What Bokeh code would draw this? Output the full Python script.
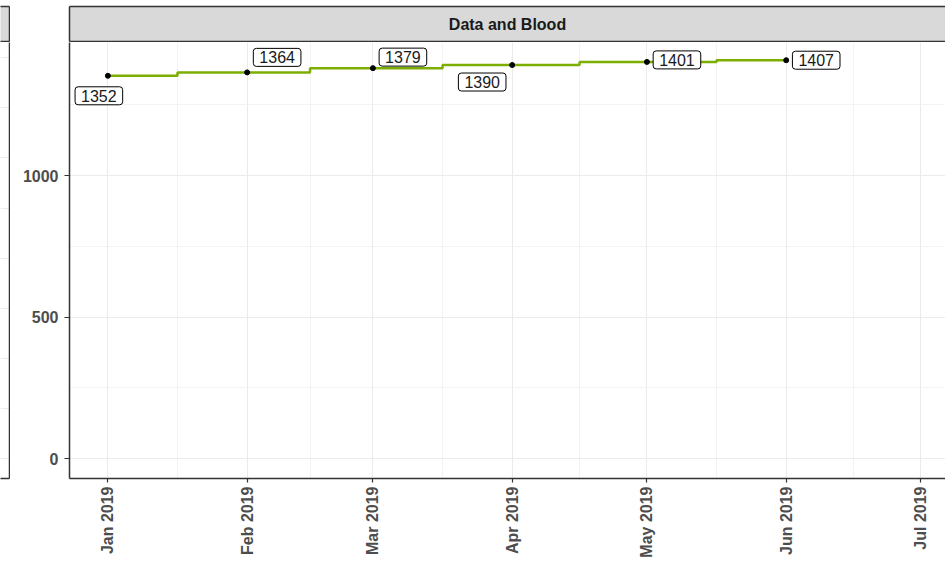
import math
import pandas as pd
from bokeh.plotting import figure
from bokeh.models import (ColumnDataSource, FixedTicker, DatetimeTickFormatter,
                          Range1d, LinearAxis, Label, Grid)
from bokeh.layouts import column, row
from bokeh.embed import file_html
from bokeh.resources import INLINE

# ---- data ----
dates = ["2019-01-01", "2019-02-01", "2019-03-01", "2019-04-01", "2019-05-01", "2019-06-01"]
values = [1352, 1364, 1379, 1390, 1401, 1407]
labels = [str(v) for v in values]
# label offsets in screen pixels (repelled label positions); dy positive = down
label_dx = [-9, 30, 30, -30, 30, 30]
label_dy = [20, -15, -11, 17, -2, 0]
x_tick_dates = ["2019-01-01", "2019-02-01", "2019-03-01", "2019-04-01",
                "2019-05-01", "2019-06-01", "2019-07-01"]
y_ticks = [0, 500, 1000]
y_minor_ticks = [250, 750, 1250]
strip_title = "Data and Blood"
# neighbouring (cut-off) panel on the left: only its grid is visible
left_panel_grid = [0, 1, 2, 3, 4, 5, 6, 7, 8]

FONT = "Liberation Sans"
BORDER = "#333333"
STRIP_FILL = "#D9D9D9"

x = pd.to_datetime(dates)
src = ColumnDataSource(dict(x=x, y=values, text=labels, dx=label_dx, dy=label_dy))

tick_ts = pd.to_datetime(x_tick_dates)
tick_ms = [t.value / 1e6 for t in tick_ts]
minor_ms = [(a + b) / 2 for a, b in zip(tick_ms[:-1], tick_ms[1:])]

x_start = pd.Timestamp("2018-12-23 11:00")
x_end = pd.Timestamp("2019-07-06 11:00")

REM_W = 10
W = 945 - REM_W
STRIP_H = 42
MAIN_H = 564 - STRIP_H


def border_axis(fig, loc):
    ax = LinearAxis(ticker=FixedTicker(ticks=[]), axis_line_color=BORDER, axis_line_width=1.5,
                    major_tick_out=0, major_tick_in=0, minor_tick_out=0, minor_tick_in=0,
                    major_label_standoff=0)
    fig.add_layout(ax, loc)


def blank_fig(width, height, y_range=(0, 1), **borders):
    f = figure(width=width, height=height, x_range=Range1d(0, 1), y_range=Range1d(*y_range),
               x_axis_location=None, y_axis_location=None,
               output_backend="svg", toolbar_location=None, **borders)
    f.grid.visible = False
    f.outline_line_color = None
    f.border_fill_color = "white"
    return f


# ---- remnant of neighbouring panel (left edge) ----
rem_strip = blank_fig(REM_W, STRIP_H, min_border_left=0, min_border_right=1,
                      min_border_top=6, min_border_bottom=1)
rem_strip.background_fill_color = STRIP_FILL
for loc in ("right", "above", "below"):
    border_axis(rem_strip, loc)

rem_main = blank_fig(REM_W, MAIN_H, y_range=(-0.393, 8.303), min_border_left=0,
                     min_border_right=1, min_border_top=0, min_border_bottom=86)
rem_main.add_layout(Grid(dimension=1, ticker=FixedTicker(ticks=left_panel_grid),
                         grid_line_color="#EBEBEB"))
for loc in ("right", "below"):
    border_axis(rem_main, loc)

# ---- strip (facet header) ----
strip = blank_fig(W, STRIP_H, min_border_left=59, min_border_right=0,
                  min_border_top=6, min_border_bottom=1)
strip.background_fill_color = STRIP_FILL
for loc in ("left", "above", "below"):
    border_axis(strip, loc)
strip.add_layout(Label(x=0.5, y=0.5, text=strip_title, text_align="center",
                       text_baseline="middle", text_font=FONT, text_font_style="bold",
                       text_font_size="16px", text_color="#1A1A1A"))

# ---- main panel ----
p = figure(width=W, height=MAIN_H, x_axis_type="datetime",
           x_range=Range1d(x_start, x_end), y_range=Range1d(-69.5, 1469.5),
           output_backend="svg", toolbar_location=None,
           min_border_left=59, min_border_right=0, min_border_top=0, min_border_bottom=86)
p.outline_line_color = None
p.background_fill_color = "white"
p.border_fill_color = "white"

p.xaxis.ticker = FixedTicker(ticks=tick_ms, minor_ticks=minor_ms)
p.xaxis.formatter = DatetimeTickFormatter(days="%b %Y", months="%b %Y", years="%b %Y",
                                          hours="%b %Y", minutes="%b %Y")
p.xaxis.major_label_orientation = math.pi / 2
p.yaxis.ticker = FixedTicker(ticks=y_ticks, minor_ticks=y_minor_ticks)

for ax in (p.xaxis[0], p.yaxis[0]):
    ax.major_label_text_font = FONT
    ax.major_label_text_font_style = "bold"
    ax.major_label_text_font_size = "16px"
    ax.major_label_text_color = "#4D4D4D"
    ax.major_tick_in = 0
    ax.major_tick_line_color = BORDER
    ax.major_tick_line_width = 1.2
    ax.minor_tick_line_color = None
    ax.axis_line_color = BORDER
    ax.axis_line_width = 1.5
p.xaxis.major_tick_out = 4
p.xaxis.major_label_standoff = 4
p.yaxis.major_tick_out = 5
p.yaxis.major_label_standoff = 6

p.grid.grid_line_color = "#EBEBEB"
p.grid.grid_line_width = 1
p.grid.minor_grid_line_color = "#F0F0F0"
p.grid.minor_grid_line_width = 0.8

p.step("x", "y", source=src, mode="center", line_color="#7CAE00", line_width=2.5)
p.scatter("x", "y", source=src, size=5, color="black")
p.text("x", "y", text="text", source=src, x_offset="dx", y_offset="dy",
       text_align="center", text_baseline="middle", text_font_size="16px",
       text_font={"value": FONT}, text_color="#1A1A1A",
       background_fill_color="white", border_line_color="black", border_line_width=1,
       padding=(6, 3), border_radius=3)

layout = row(column(rem_strip, rem_main, spacing=0), column(strip, p, spacing=0), spacing=0)
open("out.html", "w").write(file_html(layout, INLINE))
